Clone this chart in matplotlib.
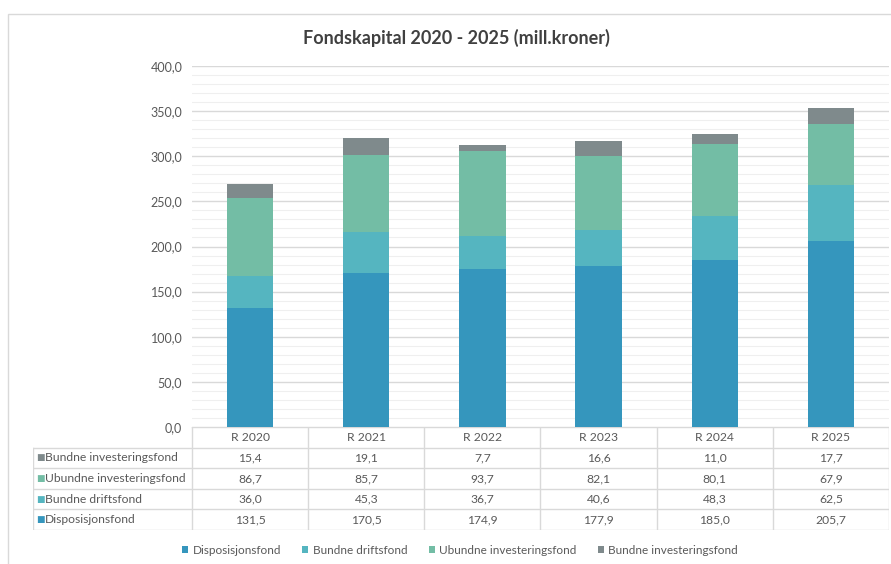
import matplotlib.pyplot as plt
from matplotlib.patches import Patch, Rectangle
from matplotlib.ticker import MultipleLocator, FuncFormatter

# data
YEARS = ["R 2020", "R 2021", "R 2022", "R 2023", "R 2024", "R 2025"]
disposisjonsfond = [131.5, 170.5, 174.9, 177.9, 185.0, 205.7]
bundne_driftsfond = [36.0, 45.3, 36.7, 40.6, 48.3, 62.5]
ubundne_investeringsfond = [86.7, 85.7, 93.7, 82.1, 80.1, 67.9]
bundne_investeringsfond = [15.4, 19.1, 7.7, 16.6, 11.0, 17.7]

SERIES = [
    ("Disposisjonsfond", disposisjonsfond, "#3596bd"),
    ("Bundne driftsfond", bundne_driftsfond, "#55b5c0"),
    ("Ubundne investeringsfond", ubundne_investeringsfond, "#73bda5"),
    ("Bundne investeringsfond", bundne_investeringsfond, "#7f8a8c"),
]

W, H = 891, 564
TXT = "#595959"
GRID = "#d9d9d9"
plt.rcParams["font.family"] = ["Lato", "DejaVu Sans"]


def fx(px):
    return px / W


def fy(py):
    return 1 - py / H


fig = plt.figure(figsize=(W / 100, H / 100), dpi=100)

# light frame of the chart area
fig.patches.append(Rectangle((fx(8), -0.1), 1.2, fy(14) + 0.1,
                             transform=fig.transFigure, fill=False,
                             edgecolor="#d9d9d9", linewidth=1))

# plot area in pixels
L, R, T, B = 192, 889, 66, 427
ax = fig.add_axes([fx(L), fy(B), fx(R) - fx(L), fy(T) - fy(B)])

x = list(range(len(YEARS)))
bottom = [0] * len(YEARS)
for name, vals, col in SERIES:
    ax.bar(x, vals, width=0.4, bottom=bottom, color=col, zorder=3)
    bottom = [b + v for b, v in zip(bottom, vals)]

ax.set_xlim(-0.5, len(YEARS) - 0.5)
ax.set_ylim(0, 400)
ax.yaxis.set_major_locator(MultipleLocator(50))
ax.yaxis.set_minor_locator(MultipleLocator(10))
ax.yaxis.set_major_formatter(FuncFormatter(lambda v, p: f"{v:.1f}".replace(".", ",")))
ax.grid(axis="y", which="major", color=GRID, linewidth=1, zorder=0)
ax.grid(axis="y", which="minor", color="#efefef", linewidth=0.8, zorder=0)
ax.tick_params(axis="y", which="both", length=0, labelcolor=TXT, labelsize=9, pad=7)
ax.set_xticks([])
for s in ax.spines.values():
    s.set_visible(False)

fig.text(fx(456), fy(38), "Fondskapital 2020 - 2025 (mill.kroner)",
         ha="center", va="center", fontsize=13, fontweight="bold", color="#404040")

# data table under the plot
TL, TB = 33, 530
cat_w = (R - L) / len(YEARS)
tax = fig.add_axes([fx(TL), fy(TB), fx(R) - fx(TL), fy(B) - fy(TB)])
x0 = -0.5 - (L - TL) / cat_w
tax.set_xlim(x0, len(YEARS) - 0.5)
tax.set_ylim(5, 0)
tax.axis("off")

lc = "#d9d9d9"
# horizontal lines
tax.plot([-0.5, len(YEARS) - 0.5], [0, 0], color=lc, lw=1)
for r in range(1, 6):
    tax.plot([x0, len(YEARS) - 0.5], [r, r], color=lc, lw=1)
# vertical lines
tax.plot([x0, x0], [1, 5], color=lc, lw=1)
for c in range(len(YEARS) + 1):
    tax.plot([c - 0.5, c - 0.5], [0, 5], color=lc, lw=1)

for i, yr in enumerate(YEARS):
    tax.text(i, 0.5, yr, ha="center", va="center", fontsize=8.7, color=TXT)

for r, (name, vals, col) in enumerate(reversed(SERIES), start=1):
    tax.text(x0 + 0.025, r + 0.5, "■", ha="left", va="center", fontsize=6.5,
             color=col, family=["DejaVu Sans"])
    tax.text(x0 + 0.1, r + 0.5, name, ha="left", va="center", fontsize=8.7, color=TXT)
    for i, v in enumerate(vals):
        tax.text(i, r + 0.5, f"{v:.1f}".replace(".", ","), ha="center", va="center",
                 fontsize=8.7, color=TXT)

handles = [Patch(facecolor=col, label=name) for name, vals, col in SERIES]
fig.legend(handles=handles, loc="center", bbox_to_anchor=(fx(460), fy(550)), ncol=4,
           frameon=False, fontsize=8.5, labelcolor=TXT, handlelength=0.5, handleheight=0.5,
           handletextpad=0.4, columnspacing=1.8)

fig.savefig("out.png", dpi=100)
